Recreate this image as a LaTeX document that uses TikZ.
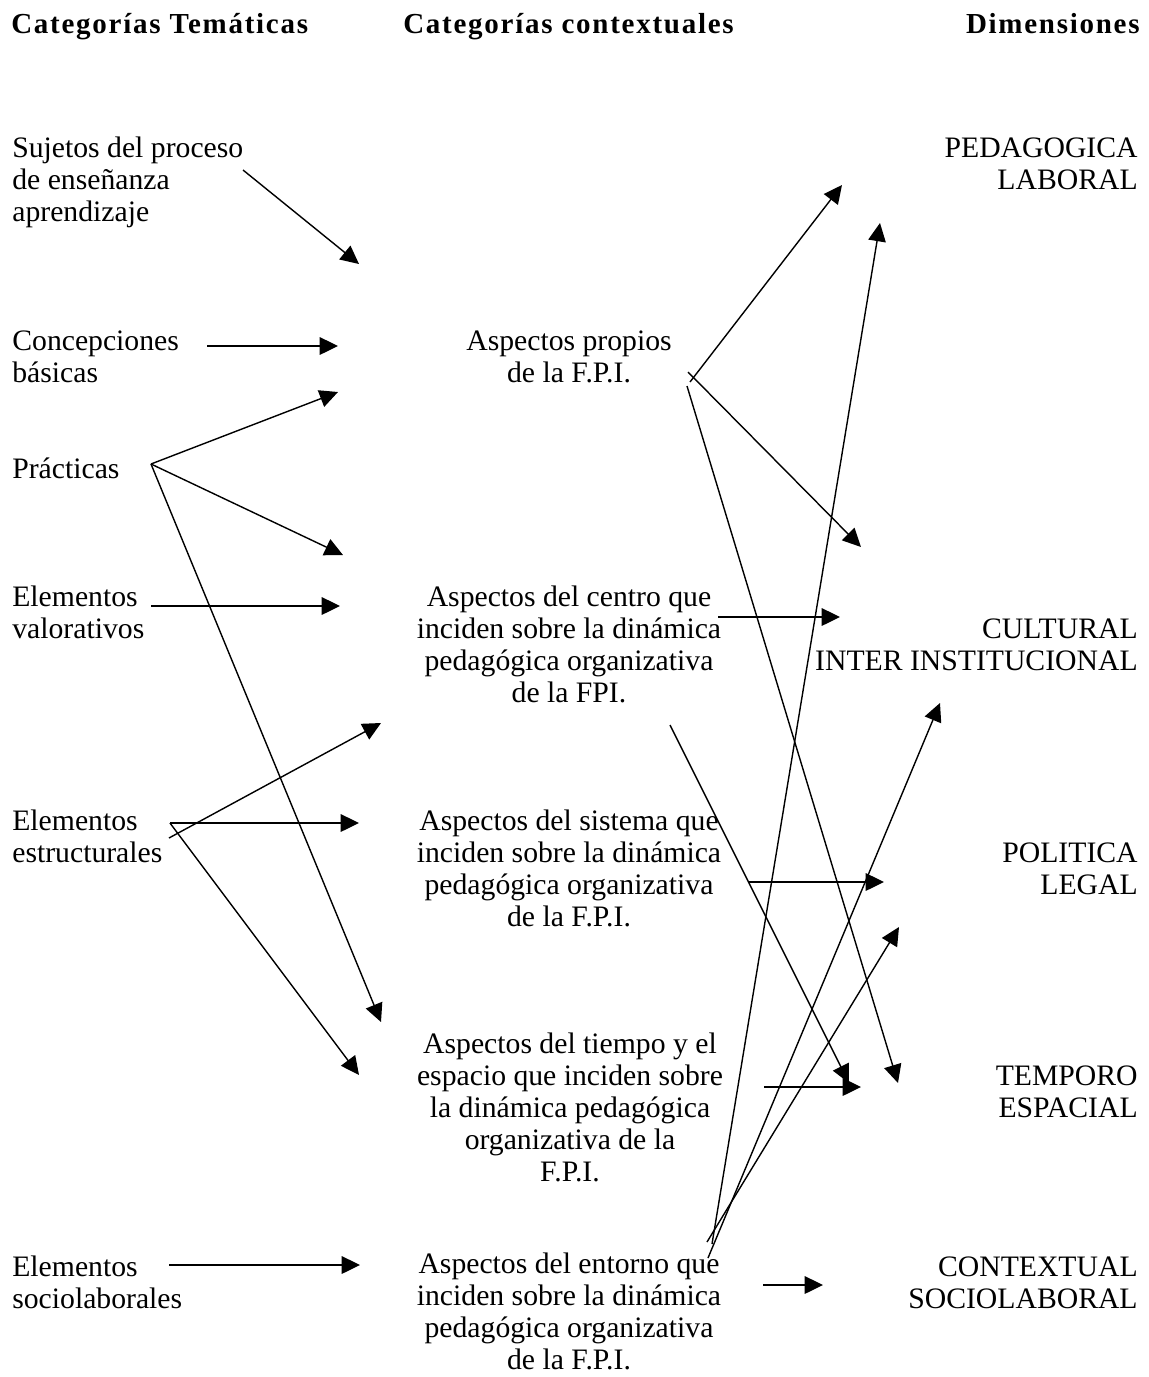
\documentclass[tikz,border=0pt]{standalone}
\usepackage{fontspec}
\setmainfont{Liberation Serif}
\usetikzlibrary{arrows.meta}
\begin{document}
\begin{tikzpicture}[x=0.02cm,y=-0.02cm,
  body/.style={inner sep=0pt, font=\fontsize{16.9}{18.14}\selectfont},
  lcol/.style={body, anchor=base west, align=left},
  mcol/.style={body, anchor=base, align=center},
  rcol/.style={body, anchor=base east, align=right},
  head/.style={inner sep=0pt, font=\fontsize{16.5}{18}\selectfont\bfseries\addfontfeature{LetterSpace=6}},
  link/.style={line width=0.8pt, -{Triangle[length=10.4pt,width=10pt]}},
]
\useasboundingbox (0,0) rectangle (1149,1377);

% column headings
\node[head, anchor=base west] (h1) at (11,33) {Categorías Temáticas};
\node[head, anchor=base west] (h2) at (403,33) {Categorías contextuales};
\node[head, anchor=base east] (h3) at (1140,33) {Dimensiones};

% thematic categories (anchored on the baseline of the last line)
\node[lcol] (suj) at (12,221) {Sujetos del proceso\\de enseñanza\\aprendizaje};
\node[lcol] (con) at (12,382) {Concepciones\\básicas};
\node[lcol] (pra) at (12,478) {Prácticas};
\node[lcol] (val) at (12,638) {Elementos\\valorativos};
\node[lcol] (est) at (12,862) {Elementos\\estructurales};
\node[lcol] (soc) at (12,1308) {Elementos\\sociolaborales};

% contextual categories
\node[mcol] (pro) at (569,382) {Aspectos propios\\de la F.P.I.};
\node[mcol] (cen) at (569,702) {Aspectos del centro que\\inciden sobre la dinámica\\pedagógica organizativa\\de la FPI.};
\node[mcol] (sis) at (569,926) {Aspectos del sistema que\\inciden sobre la dinámica\\pedagógica organizativa\\de la F.P.I.};
\node[mcol] (tie) at (570,1181) {Aspectos del tiempo y el\\espacio que inciden sobre\\la dinámica pedagógica\\organizativa de la\\F.P.I.};
\node[mcol] (ent) at (569,1369) {Aspectos del entorno que\\inciden sobre la dinámica\\pedagógica organizativa\\de la F.P.I.};

% dimensions
\node[rcol] (ped) at (1138,189) {PEDAGOGICA\\LABORAL};
\node[rcol] (cul) at (1138,670) {CULTURAL\\INTER INSTITUCIONAL};
\node[rcol] (pol) at (1138,894) {POLITICA\\LEGAL};
\node[rcol] (tem) at (1138,1117) {TEMPORO\\ESPACIAL};
\node[rcol] (ctx) at (1138,1308) {CONTEXTUAL\\SOCIOLABORAL};

% line ends, left half
\coordinate (suj-o) at (243,170);  \coordinate (suj-i) at (359,264);
\coordinate (con-o) at (207,346);  \coordinate (con-i) at (338,346);
\coordinate (pra-o) at (151,464);
\coordinate (pra-a) at (338,392);  \coordinate (pra-b) at (343,555);
\coordinate (pra-c) at (381,1022);
\coordinate (val-o) at (151,606);  \coordinate (val-i) at (340,606);
\coordinate (est-o) at (170,823);  \coordinate (est-o2) at (169,838);
\coordinate (est-a) at (359,823);  \coordinate (est-b) at (359,1075);
\coordinate (est-c) at (381,723);
\coordinate (soc-o) at (169,1265); \coordinate (soc-i) at (360,1265);

% line ends, right half
\coordinate (pro-o1) at (690,382); \coordinate (pro-o2) at (688,372);
\coordinate (pro-o3) at (687,386);
\coordinate (ped-a) at (842,185);  \coordinate (ped-b) at (880,223);
\coordinate (pro-i) at (861,547);
\coordinate (cen-o) at (718,617);  \coordinate (cen-i) at (840,617);
\coordinate (cen-o2) at (670,725);
\coordinate (sis-o) at (748,882);  \coordinate (pol-a) at (884,882);
\coordinate (pol-b) at (899,927);
\coordinate (tie-o) at (764,1087); \coordinate (tem-c) at (861,1087);
\coordinate (tem-a) at (898,1083); \coordinate (tem-b) at (849,1083);
\coordinate (cul-i) at (940,703);
\coordinate (ent-o) at (763,1285); \coordinate (ctx-i) at (823,1285);
\coordinate (ent-o1) at (712,1244);
\coordinate (ent-o2) at (708,1258);
\coordinate (ent-o3) at (707,1242);

% connectors from the thematic categories
\draw[link] (suj-o) -- (suj-i);
\draw[link] (con-o) -- (con-i);
\draw[link] (pra-o) -- (pra-a);
\draw[link] (pra-o) -- (pra-b);
\draw[link] (pra-o) -- (pra-c);
\draw[link] (val-o) -- (val-i);
\draw[link] (est-o) -- (est-a);
\draw[link] (est-o) -- (est-b);
\draw[link] (est-o2) -- (est-c);
\draw[link] (soc-o) -- (soc-i);

% connectors towards the dimensions
\draw[link] (pro-o1) -- (ped-a);
\draw[link] (pro-o2) -- (pro-i);
\draw[link] (pro-o3) -- (tem-a);
\draw[link] (cen-o) -- (cen-i);
\draw[link] (cen-o2) -- (tem-b);
\draw[link] (sis-o) -- (pol-a);
\draw[link] (tie-o) -- (tem-c);
\draw[link] (ent-o) -- (ctx-i);
\draw[link] (ent-o1) -- (ped-b);
\draw[link] (ent-o2) -- (cul-i);
\draw[link] (ent-o3) -- (pol-b);
\end{tikzpicture}
\end{document}
